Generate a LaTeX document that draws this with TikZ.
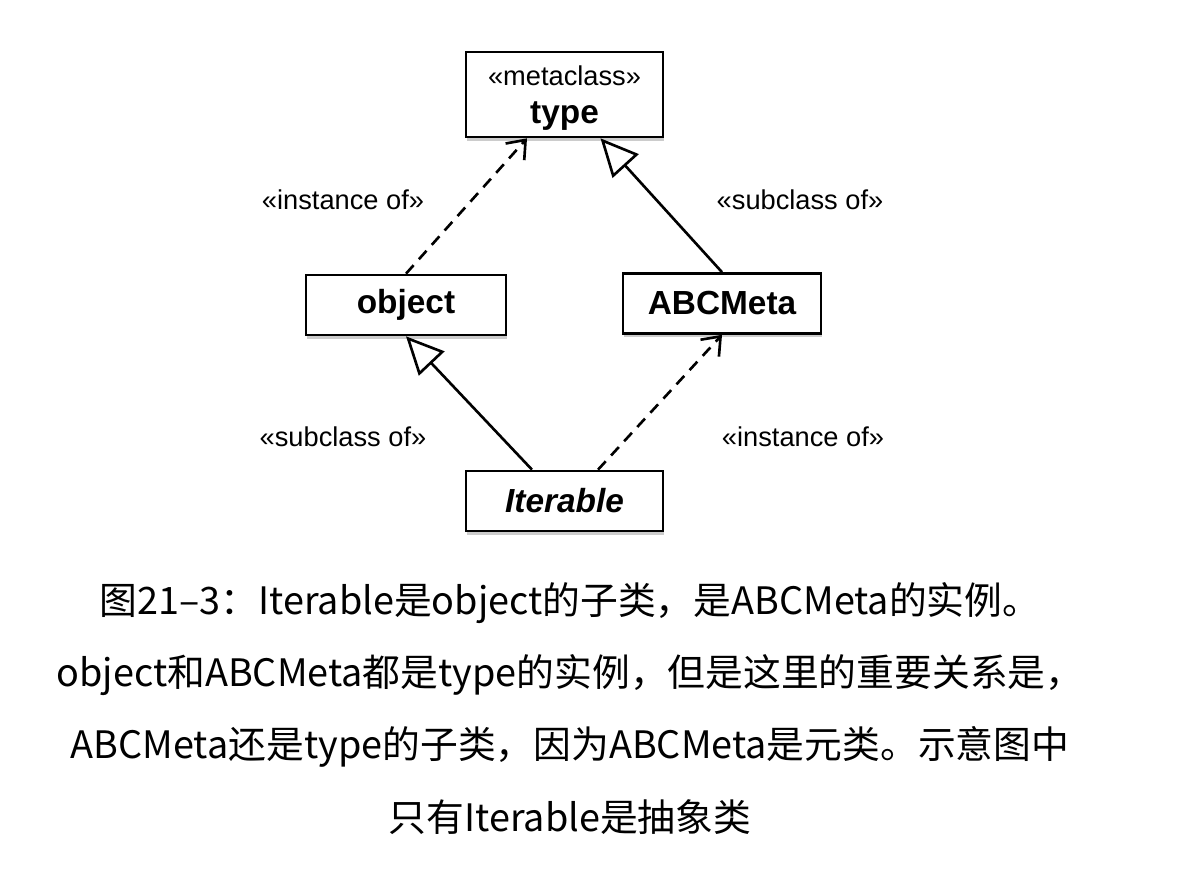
\documentclass[tikz,border=0pt]{standalone}
\usepackage{fontspec}
\setmainfont{Liberation Sans}
\newfontfamily\cjk{Noto Sans CJK SC}
\usepackage{tikz}
\usetikzlibrary{arrows.meta, shadows}

\begin{document}
\begin{tikzpicture}[
  every node/.style={font=\fontsize{15.5}{18}\selectfont},
  cls/.style={
    draw=black, fill=white, line width=1.5pt,
    minimum width=3.94cm, minimum height=1.2cm, align=center,
    inner sep=2pt,
    drop shadow={shadow xshift=0.6pt, shadow yshift=-2.2pt, opacity=0.4}
  },
  clsname/.style={font=\fontsize{19}{22}\selectfont\bfseries},
  instance/.style={-{Straight Barb[length=3.2mm, width=5mm, line width=1.5pt]}, line width=1.5pt, dash pattern=on 6.5pt off 4.5pt},
  subclass/.style={-{Triangle[open, length=7.5mm, width=7mm, line width=1.5pt, fill=white]}, line width=1.5pt},
  stereo/.style={font=\fontsize{15.5}{18}\selectfont}
]
\useasboundingbox (0,0) rectangle (24,-17.64);

  % classes
\node[cls, minimum height=1.7cm, text depth=0pt] (type) at (11.29, -1.89) {«metaclass»\\[4pt]{\fontsize{19}{22}\selectfont\bfseries type}};
\node[cls, clsname, minimum width=4.0cm] (object) at (8.12, -6.1) {object};
\node[cls, clsname, minimum width=3.96cm] (abcmeta) at (14.44, -6.07) {ABCMeta};
\node[cls, clsname] (iterable) at (11.29, -10.02) {\itshape Iterable};

  % relations
\draw[instance] (object.north) -- ([xshift=-0.75cm]type.south);
\draw[subclass] (abcmeta.north) -- ([xshift=0.72cm]type.south);
\draw[subclass] ([xshift=-0.65cm]iterable.north) -- (object.south);
\draw[instance] ([xshift=0.67cm]iterable.north) -- (abcmeta.south);

\node[stereo] (inst1) at (6.86, -4.0) {«instance of»};
\node[stereo] (sub1) at (16.0, -4.0) {«subclass of»};
\node[stereo] (sub2) at (6.86, -8.74) {«subclass of»};
\node[stereo] (inst2) at (16.06, -8.74) {«instance of»};

  % caption
\node[font=\cjk\fontsize{21.5}{41}\selectfont, align=center] (caption) at (11.4, -14.17) {%
图21–3：Iterable是object的子类，是ABCMeta的实例。\\
object和ABCMeta都是type的实例，但是这里的重要关系是，\\
ABCMeta还是type的子类，因为ABCMeta是元类。示意图中\\
只有Iterable是抽象类};

\end{tikzpicture}
\end{document}
